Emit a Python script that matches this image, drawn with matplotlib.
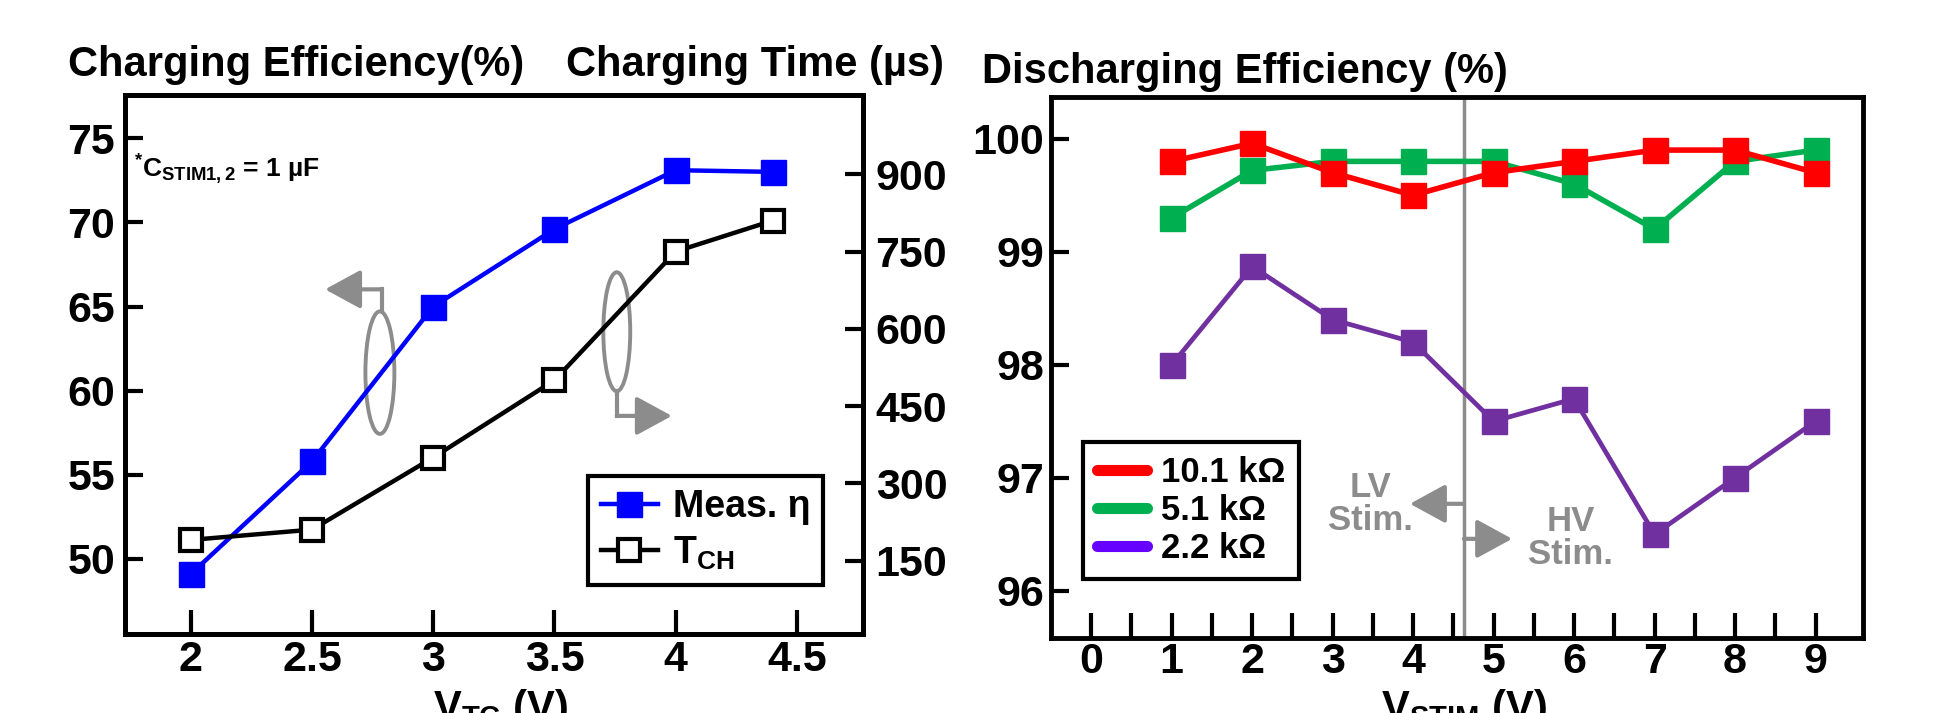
import matplotlib
matplotlib.use('Agg')
import matplotlib.pyplot as plt
from matplotlib.patches import Ellipse
from matplotlib.lines import Line2D

plt.rcParams['font.family'] = ['Liberation Sans', 'DejaVu Sans']
plt.rcParams['font.weight'] = 'bold'
plt.rcParams['mathtext.fontset'] = 'custom'
plt.rcParams['mathtext.rm'] = 'Liberation Sans:bold'
plt.rcParams['mathtext.it'] = 'Liberation Sans:bold'
plt.rcParams['mathtext.bf'] = 'Liberation Sans:bold'
plt.rcParams['mathtext.default'] = 'rm'

# left panel: charging
v_tc = [2, 2.5, 3, 3.5, 4, 4.4]
eff_charge = [49.1, 55.8, 65.0, 69.6, 73.1, 73.0]
t_charge = [190, 210, 350, 500, 750, 810]
left_xticks = [2, 2.5, 3, 3.5, 4, 4.5]
left_xlabels = ['2', '2.5', '3', '3.5', '4', '4.5']
eff_ticks = [50, 55, 60, 65, 70, 75]
time_ticks = [150, 300, 450, 600, 750, 900]

# right panel: discharging
v_stim = [1, 2, 3, 4, 5, 6, 7, 8, 9]
eff_10k = [99.8, 99.96, 99.7, 99.5, 99.7, 99.8, 99.9, 99.9, 99.7]
eff_5k = [99.3, 99.72, 99.8, 99.8, 99.8, 99.6, 99.2, 99.8, 99.9]
eff_2k = [98.0, 98.87, 98.4, 98.2, 97.5, 97.7, 96.5, 97.0, 97.5]
load_labels = ['10.1 kΩ', '5.1 kΩ', '2.2 kΩ']
right_yticks = [96, 97, 98, 99, 100]

gray = '#8c8c8c'
TK = 31
TT = 30

fig = plt.figure(figsize=(19.51, 7.13), dpi=100)

# ---------- left ----------
ax1 = fig.add_axes([0.0641, 0.1108, 0.3783, 0.756])
ax2 = ax1.twinx()
ax1.set_xlim(1.729, 4.773)
ax1.set_ylim(45.54, 77.57)
ax2.set_ylim(7.3, 1054)

l1, = ax1.plot(v_tc, eff_charge, color='#0000ff', lw=3.2, marker='s', ms=18,
               mec='#0000ff', mfc='#0000ff', zorder=5)
l2, = ax2.plot(v_tc, t_charge, color='black', lw=3.2, marker='s', ms=16,
               mfc='white', mec='black', mew=3, zorder=5)

ax1.set_xticks(left_xticks)
ax1.set_xticklabels(left_xlabels)
ax1.set_yticks(eff_ticks)
ax2.set_yticks(time_ticks)
ax1.tick_params(axis='x', direction='in', length=17, width=3, labelsize=TK, pad=4)
ax1.tick_params(axis='y', direction='in', length=13, width=3, labelsize=TK, pad=7)
ax2.tick_params(axis='y', direction='in', length=13, width=3, labelsize=TK, pad=9)
for a in (ax1, ax2):
    for s in a.spines.values():
        s.set_linewidth(3.5)

# ellipses and arrows
ax1.add_patch(Ellipse((2.780, 61.07), 0.1195, 7.28, fill=False, ec=gray, lw=2.8, zorder=3))
ax1.add_patch(Ellipse((3.757, 63.5), 0.111, 7.07, fill=False, ec=gray, lw=2.8, zorder=3))
ax1.plot([2.787, 2.787], [64.71, 66.02], color=gray, lw=3, zorder=3)
ax1.annotate('', xy=(2.554, 66.02), xytext=(2.787, 66.02),
             arrowprops=dict(arrowstyle='-|>,head_length=1.1,head_width=0.6',
                             color=gray, lw=3, shrinkA=0, shrinkB=0, mutation_scale=20))
ax1.plot([3.757, 3.757], [59.98, 58.50], color=gray, lw=3, zorder=3)
ax1.annotate('', xy=(3.984, 58.50), xytext=(3.757, 58.50),
             arrowprops=dict(arrowstyle='-|>,head_length=1.1,head_width=0.6',
                             color=gray, lw=3, shrinkA=0, shrinkB=0, mutation_scale=20))

ax1.text(0.012, 0.848, '$^{*}$C$_{\\mathrm{STIM1,2}}$ = 1 µF', transform=ax1.transAxes,
         fontsize=19, ha='left', va='baseline')

leg1 = ax2.legend([l1, l2], ['Meas. η', 'T$_{\\mathrm{CH}}$'], loc='lower right',
                  bbox_to_anchor=(0.946, 0.091), borderaxespad=0, fontsize=27,
                  fancybox=False, edgecolor='black', framealpha=1, borderpad=0.35,
                  handlelength=1.5, handletextpad=0.4, labelspacing=0.25, numpoints=1)
leg1.get_frame().set_linewidth(3)

fig.text(68 / 1951, 0.8928, 'Charging Efficiency(%)', fontsize=TT, ha='left', va='baseline')
fig.text(565.6 / 1951, 0.8928, 'Charging Time (µs)', fontsize=TT, ha='left', va='baseline')
fig.text(501 / 1951, -0.0098, 'V$_{\\mathrm{TC}}$ (V)', fontsize=TT, ha='center', va='baseline')

# ---------- right ----------
ax3 = fig.add_axes([0.5387, 0.1048, 0.4162, 0.7592])
ax3.set_xlim(-0.5, 9.59)
ax3.set_ylim(95.58, 100.37)
ax3.axvline(4.63, color=gray, lw=2.5, zorder=1)
ax3.plot(v_stim, eff_2k, color='#7030a0', lw=3.4, marker='s', ms=18, zorder=4)
ax3.plot(v_stim, eff_5k, color='#00b050', lw=4, marker='s', ms=18, zorder=5)
ax3.plot(v_stim, eff_10k, color='#ff0000', lw=4, marker='s', ms=18, zorder=6)

ax3.set_xticks(range(10))
ax3.set_xticks([i + 0.5 for i in range(9)], minor=True)
ax3.set_yticks(right_yticks)
ax3.tick_params(axis='x', which='both', direction='in', length=18, width=3, labelsize=TK, pad=3)
ax3.tick_params(axis='y', direction='in', length=13, width=3, labelsize=TK, pad=5)
for s in ax3.spines.values():
    s.set_linewidth(3.5)

ax3.annotate('', xy=(3.96, 96.77), xytext=(4.63, 96.77),
             arrowprops=dict(arrowstyle='-|>,head_length=1.1,head_width=0.6',
                             color=gray, lw=3, shrinkA=0, shrinkB=0, mutation_scale=20))
ax3.annotate('', xy=(5.23, 96.46), xytext=(4.63, 96.46),
             arrowprops=dict(arrowstyle='-|>,head_length=1.1,head_width=0.6',
                             color=gray, lw=3, shrinkA=0, shrinkB=0, mutation_scale=20))
ax3.text(3.475, 96.77, 'LV\nStim.', color=gray, fontsize=25, ha='center', va='center',
         linespacing=1.0)
ax3.text(5.96, 96.47, 'HV\nStim.', color=gray, fontsize=25, ha='center', va='center',
         linespacing=1.0)

handles = [Line2D([], [], color=c, lw=8, solid_capstyle='round')
           for c in ['#ff0000', '#00b050', '#6600ff']]
leg2 = ax3.legend(handles, load_labels, loc='upper left', bbox_to_anchor=(0.039, 0.363),
                  borderaxespad=0, fontsize=25, fancybox=False, edgecolor='black',
                  framealpha=1, borderpad=0.4, handlelength=1.45, handletextpad=0.4,
                  labelspacing=0.15)
leg2.get_frame().set_linewidth(3)

fig.text(982 / 1951, 0.8833, 'Discharging Efficiency (%)', fontsize=TT, ha='left', va='baseline')
fig.text(1464 / 1951, -0.0098, 'V$_{\\mathrm{STIM}}$ (V)', fontsize=TT, ha='center', va='baseline')

fig.savefig('out.png', dpi=100)
